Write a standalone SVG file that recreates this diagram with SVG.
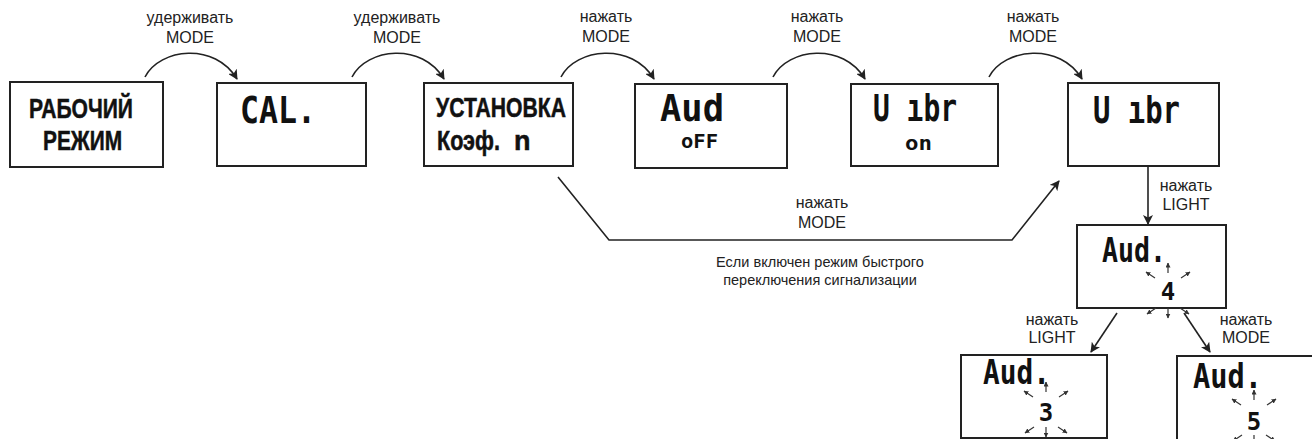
<svg xmlns="http://www.w3.org/2000/svg" xmlns:xlink="http://www.w3.org/1999/xlink" width="1312" height="439" viewBox="0 0 1312 439">
<style>
.box{fill:#fff;stroke:#222;stroke-width:2}
.lbl{font-family:"Liberation Sans",Arial,sans-serif;font-size:16px;fill:#222;text-anchor:middle}
.cap{font-family:"Liberation Sans",Arial,sans-serif;font-size:14.5px;fill:#222;text-anchor:middle}
.ttl{font-family:"Liberation Sans",Arial,sans-serif;font-weight:bold;font-size:27px;fill:#111;stroke:#111;stroke-width:0.5}
.lcd{font-family:"DejaVu Sans Mono",monospace;font-weight:bold;fill:#111}
.con{fill:none;stroke:#222;stroke-width:1.6}
.sp{fill:none;stroke:#333;stroke-width:1.2}
</style>
<defs>
<marker id="ah" viewBox="0 0 10 10" refX="9" refY="5" markerWidth="10" markerHeight="10" markerUnits="userSpaceOnUse" orient="auto">
<path d="M0,0 L10,5 L0,10 L2.5,5 z" fill="#222"/>
</marker>
<marker id="sh" viewBox="0 0 10 10" refX="9" refY="5" markerWidth="5" markerHeight="5" markerUnits="userSpaceOnUse" orient="auto">
<path d="M0,0 L10,5 L0,10 z" fill="#333"/>
</marker>
<g id="sparkle">
<line class="sp" x1="0" y1="-18" x2="0" y2="-28" marker-end="url(#sh)"/>
<line class="sp" x1="-13" y1="-13" x2="-22" y2="-19" marker-end="url(#sh)"/>
<line class="sp" x1="13" y1="-13" x2="22" y2="-19" marker-end="url(#sh)"/>
<line class="sp" x1="0" y1="17" x2="0" y2="27" marker-end="url(#sh)"/>
<line class="sp" x1="-12" y1="17" x2="-21" y2="23" marker-end="url(#sh)"/>
<line class="sp" x1="12" y1="17" x2="21" y2="23" marker-end="url(#sh)"/>
</g>
</defs>
<rect width="1312" height="439" fill="#fff"/>

<g id="connectors">
<path class="con" d="M145,77 C160,48 215,42 237,79" marker-end="url(#ah)"/>
<path class="con" d="M352,77 C367,48 422,42 444,79" marker-end="url(#ah)"/>
<path class="con" d="M561,77 C576,48 632,42 654,79" marker-end="url(#ah)"/>
<path class="con" d="M773,77 C788,48 843,42 865,79" marker-end="url(#ah)"/>
<path class="con" d="M989,77 C1004,48 1060,42 1082,79" marker-end="url(#ah)"/>
<path class="con" d="M558,177 L609,240 L1012,240 L1059,181" marker-end="url(#ah)"/>
<path class="con" d="M1148,167 L1148,224" marker-end="url(#ah)"/>
<path class="con" d="M1117,313 L1091,352" marker-end="url(#ah)"/>
<path class="con" d="M1184,313 L1210,352" marker-end="url(#ah)"/>
<text class="lbl" x="190" y="23">удерживать</text>
<text class="lbl" x="190" y="43">MODE</text>
<text class="lbl" x="397" y="23">удерживать</text>
<text class="lbl" x="397" y="43">MODE</text>
<text class="lbl" x="606" y="22">нажать</text>
<text class="lbl" x="606" y="42">MODE</text>
<text class="lbl" x="817" y="22">нажать</text>
<text class="lbl" x="817" y="42">MODE</text>
<text class="lbl" x="1033" y="22">нажать</text>
<text class="lbl" x="1033" y="42">MODE</text>
<text class="lbl" x="822" y="208">нажать</text>
<text class="lbl" x="822" y="228">MODE</text>
<text class="cap" x="820" y="267">Если включен режим быстрого</text>
<text class="cap" x="820" y="285">переключения сигнализации</text>
<text class="lbl" x="1186" y="191">нажать</text>
<text class="lbl" x="1186" y="210">LIGHT</text>
<text class="lbl" x="1052" y="325">нажать</text>
<text class="lbl" x="1052" y="343">LIGHT</text>
<text class="lbl" x="1246" y="325">нажать</text>
<text class="lbl" x="1246" y="343">MODE</text>
</g>

<g id="node-rabochiy">
<rect class="box" x="10" y="82" width="153" height="85"/>
<text class="ttl" x="29" y="118" textLength="104" lengthAdjust="spacingAndGlyphs">РАБОЧИЙ</text>
<text class="ttl" x="43" y="150" textLength="79" lengthAdjust="spacingAndGlyphs">РЕЖИМ</text>
</g>

<g id="node-cal">
<rect class="box" x="217" y="83" width="149" height="83"/>
<text class="lcd" x="240" y="123" font-size="38" textLength="76" lengthAdjust="spacingAndGlyphs">CAL.</text>
</g>

<g id="node-ustanovka">
<rect class="box" x="424" y="83" width="149" height="83"/>
<text class="ttl" x="436" y="117" textLength="130" lengthAdjust="spacingAndGlyphs">УСТАНОВКА</text>
<text class="ttl" x="437" y="150" textLength="63" lengthAdjust="spacingAndGlyphs">Коэф.</text>
<text class="ttl" x="514" y="150" font-size="26">n</text>
</g>

<g id="node-aud-off">
<rect class="box" x="635" y="84" width="152" height="84"/>
<text class="lcd" x="660" y="121" font-size="38" textLength="64" lengthAdjust="spacingAndGlyphs">Aud</text>
<text class="lcd" x="681" y="148" font-size="20" textLength="37" lengthAdjust="spacingAndGlyphs">oFF</text>
</g>

<g id="node-vibr-on">
<rect class="box" x="851" y="84" width="147" height="82"/>
<text class="lcd" x="873" y="121" font-size="38" textLength="84" lengthAdjust="spacingAndGlyphs">U ıbr</text>
<text class="lcd" x="905" y="150" font-size="20" textLength="27" lengthAdjust="spacingAndGlyphs">on</text>
</g>

<g id="node-vibr">
<rect class="box" x="1068" y="83" width="151" height="83"/>
<text class="lcd" x="1093" y="123" font-size="38" textLength="87" lengthAdjust="spacingAndGlyphs">U ıbr</text>
</g>

<g id="node-aud-4">
<rect class="box" x="1077" y="225" width="149" height="83"/>
<text class="lcd" x="1102" y="262" font-size="33" textLength="64" lengthAdjust="spacingAndGlyphs">Aud.</text>
<text class="lcd" x="1168" y="300" font-size="24" text-anchor="middle">4</text>
<use xlink:href="#sparkle" x="1168" y="291"/>
</g>

<g id="node-aud-3">
<rect class="box" x="961" y="355" width="146" height="83"/>
<text class="lcd" x="983" y="384" font-size="33" textLength="67" lengthAdjust="spacingAndGlyphs">Aud.</text>
<text class="lcd" x="1046" y="421" font-size="24" text-anchor="middle">3</text>
<use xlink:href="#sparkle" x="1046" y="410"/>
</g>

<g id="node-aud-5">
<rect class="box" x="1177" y="356" width="145" height="84"/>
<text class="lcd" x="1193" y="388" font-size="33" textLength="69" lengthAdjust="spacingAndGlyphs">Aud.</text>
<text class="lcd" x="1254" y="430" font-size="24" text-anchor="middle">5</text>
<use xlink:href="#sparkle" x="1254" y="418"/>
</g>
</svg>
